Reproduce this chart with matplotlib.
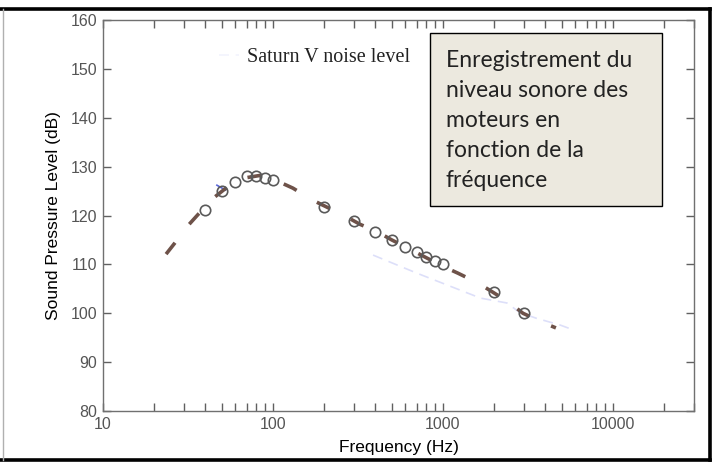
import matplotlib
matplotlib.use("Agg")
import matplotlib.pyplot as plt
from matplotlib.lines import Line2D
from matplotlib.patches import Rectangle
from matplotlib.ticker import FixedLocator, NullFormatter

W, H = 717, 466

# measured points (open circles)
freq = [40, 50, 60, 70, 80, 90, 100, 200, 300, 400, 500, 600, 700, 800, 900, 1000, 2000, 3000]
spl = [121.1, 125.0, 126.8, 128.1, 128.0, 127.7, 127.3, 121.7, 118.9, 116.6, 115.0, 113.5,
       112.5, 111.5, 110.7, 110.1, 104.3, 100.0]

# brown dashed fit curve, read along the dashes
fit_freq = [23.5, 26.5, 31, 36, 44, 52, 66, 84, 110, 131, 172, 208, 272, 325, 415, 500,
            657, 784, 1000, 1225, 1607, 1968, 2478, 2955, 3820, 4620]
fit_spl = [112.1, 114.4, 117.6, 120.1, 123.4, 125.4, 127.6, 128.2, 126.8, 125.6, 123.1, 121.7,
           119.7, 118.2, 116.6, 115.0, 112.9, 111.5, 109.6, 108.2, 106.2, 104.3, 102.1, 100.0,
           98.2, 97.0]

# faint blue "Saturn V noise level" line (only its high-frequency part shows)
sat_freq = [388, 703, 1663, 2380, 2816, 3525, 4880, 5640]
sat_spl = [111.9, 108.2, 103.1, 102.1, 100.2, 99.0, 97.6, 96.8]
# short darker blue stroke near 50 Hz
blip_freq = [46.8, 52.5]
blip_spl = [126.2, 125.2]

x_major = [10, 100, 1000, 10000]
x_labels = ["10", "100", "1000", "10000"]
y_ticks = [80, 90, 100, 110, 120, 130, 140, 150, 160]

note_lines = ["Enregistrement du", "niveau sonore des", "moteurs en",
              "fonction de la", "fréquence"]

fig = plt.figure(figsize=(W / 100, H / 100), dpi=100)
fig.patch.set_facecolor("white")

ax = fig.add_axes([103 / W, 1 - 411 / H, (694 - 103) / W, (411 - 20) / H])
ax.set_xscale("log")
ax.set_xlim(10, 30000)
ax.set_ylim(80, 160)

sat_line, = ax.plot(sat_freq, sat_spl, color="#aab0f0", lw=1.2, alpha=0.4,
                    dashes=(6, 4), label="Saturn V noise level")
ax.plot(blip_freq, blip_spl, color="#3040d0", lw=1.2, alpha=0.8)
ax.plot(fit_freq, fit_spl, color="#6e5249", lw=2.6, dashes=(4.0, 6.5), solid_capstyle="butt")
ax.plot(freq, spl, linestyle="none", marker="o", markersize=7.5, markerfacecolor="none",
        markeredgecolor="#5a5a5a", markeredgewidth=1.2)

minor = []
for dec in [10, 100, 1000, 10000]:
    for m in range(2, 10):
        if dec * m <= 30000:
            minor.append(dec * m)
ax.xaxis.set_major_locator(FixedLocator(x_major))
ax.set_xticklabels(x_labels)
ax.xaxis.set_minor_locator(FixedLocator(minor))
ax.xaxis.set_minor_formatter(NullFormatter())
ax.set_yticks(y_ticks)

for s in ax.spines.values():
    s.set_color("#707070")
    s.set_linewidth(1.0)
ax.tick_params(which="both", direction="in", top=True, right=True, length=6, width=1.0,
               color="#606060", labelcolor="#555555", labelsize=11.5, pad=4)
for lab in ax.get_xticklabels() + ax.get_yticklabels():
    lab.set_family("Liberation Sans")

ax.set_xlabel("Frequency (Hz)", fontsize=12.5, family="Liberation Sans", labelpad=6)
ax.set_ylabel("Sound Pressure Level (dB)", fontsize=12.5, family="Liberation Sans", labelpad=7)

leg = ax.legend(handles=[sat_line], loc="center left", bbox_to_anchor=(0.196, 0.905),
                frameon=False, borderpad=0, borderaxespad=0, handlelength=1.0,
                handletextpad=0.4, prop={"family": "Liberation Serif", "size": 14.5})
leg.get_lines()[0].set_alpha(0.15)
for t in leg.get_texts():
    t.set_color("#222222")

# text box on top of the chart
fig.add_artist(Rectangle((430 / W, 1 - 206 / H), (662 - 430) / W, (206 - 33) / H,
                         transform=fig.transFigure, facecolor="#ECE9DF",
                         edgecolor="black", linewidth=1.0, zorder=5))
baselines = [67, 97, 127, 157, 187]
for line, yb in zip(note_lines, baselines):
    fig.text(446 / W, 1 - yb / H, line, fontsize=16.5, family="Lato", color="#222222",
             va="baseline", ha="left", zorder=6)

# outer frame of the slide shape
fig.add_artist(Line2D([0, 710 / W], [1 - 8.5 / H, 1 - 8.5 / H], transform=fig.transFigure,
                      color="black", lw=2.6))
fig.add_artist(Line2D([710 / W, 710 / W], [1 - 8.5 / H, 1 - 460 / H], transform=fig.transFigure,
                      color="black", lw=2.6))
fig.add_artist(Line2D([0, 710 / W], [1 - 460 / H, 1 - 460 / H], transform=fig.transFigure,
                      color="black", lw=2.6))
fig.add_artist(Line2D([3 / W, 3 / W], [1 - 8.5 / H, 1 - 460 / H], transform=fig.transFigure,
                      color="#b0b0b0", lw=1.0))

fig.savefig("out.png", dpi=100)
